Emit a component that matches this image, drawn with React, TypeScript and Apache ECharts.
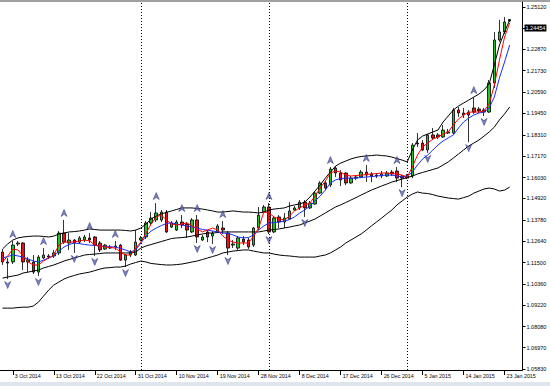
import React, { useEffect, useRef } from "react";
import * as echarts from "echarts";

const dates = [
  "1 Oct 2014","2 Oct 2014","3 Oct 2014","5 Oct 2014","6 Oct 2014","7 Oct 2014","8 Oct 2014","9 Oct 2014","10 Oct 2014","12 Oct 2014",
  "13 Oct 2014","14 Oct 2014","15 Oct 2014","16 Oct 2014","17 Oct 2014","19 Oct 2014","20 Oct 2014","21 Oct 2014","22 Oct 2014","23 Oct 2014",
  "24 Oct 2014","26 Oct 2014","27 Oct 2014","28 Oct 2014","29 Oct 2014","30 Oct 2014","31 Oct 2014","2 Nov 2014","3 Nov 2014","4 Nov 2014",
  "5 Nov 2014","6 Nov 2014","7 Nov 2014","9 Nov 2014","10 Nov 2014","11 Nov 2014","12 Nov 2014","13 Nov 2014","14 Nov 2014","16 Nov 2014",
  "17 Nov 2014","18 Nov 2014","19 Nov 2014","20 Nov 2014","21 Nov 2014","23 Nov 2014","24 Nov 2014","25 Nov 2014","26 Nov 2014","27 Nov 2014",
  "28 Nov 2014","30 Nov 2014","1 Dec 2014","2 Dec 2014","3 Dec 2014","4 Dec 2014","5 Dec 2014","7 Dec 2014","8 Dec 2014","9 Dec 2014",
  "10 Dec 2014","11 Dec 2014","12 Dec 2014","14 Dec 2014","15 Dec 2014","16 Dec 2014","17 Dec 2014","18 Dec 2014","19 Dec 2014","21 Dec 2014",
  "22 Dec 2014","23 Dec 2014","24 Dec 2014","25 Dec 2014","26 Dec 2014","28 Dec 2014","29 Dec 2014","30 Dec 2014","31 Dec 2014","1 Jan 2015",
  "2 Jan 2015","4 Jan 2015","5 Jan 2015","6 Jan 2015","7 Jan 2015","8 Jan 2015","9 Jan 2015","11 Jan 2015","12 Jan 2015","13 Jan 2015",
  "14 Jan 2015","15 Jan 2015","16 Jan 2015","18 Jan 2015","19 Jan 2015","20 Jan 2015","21 Jan 2015","22 Jan 2015","23 Jan 2015","25 Jan 2015",
  "26 Jan 2015","27 Jan 2015",
];

const tickDates = [
  "3 Oct 2014","13 Oct 2014","22 Oct 2014","31 Oct 2014","10 Nov 2014","19 Nov 2014","28 Nov 2014",
  "8 Dec 2014","17 Dec 2014","26 Dec 2014","5 Jan 2015","14 Jan 2015","23 Jan 2015",
];

const separatorDates = ["2 Nov 2014", "1 Dec 2014", "1 Jan 2015"];

const priceTicks = [
  1.2512, 1.2398, 1.2287, 1.2173, 1.2059, 1.1945, 1.1831, 1.1717, 1.1603,
  1.1492, 1.1378, 1.1264, 1.115, 1.1036, 1.0922, 1.0808, 1.0697, 1.0583,
];

const lastPrice = 1.24454;

// [open, close, low, high]
const ohlc = [
  [1.1206,1.1153,1.1137,1.1222],[1.1153,1.1147,1.1062,1.1174],[1.1153,1.1243,1.1142,1.1265],[1.1249,1.1254,1.1238,1.1265],
  [1.1254,1.1153,1.1110,1.1259],[1.1153,1.1163,1.1099,1.1179],[1.1153,1.1099,1.1089,1.1190],[1.1099,1.1179,1.1078,1.1190],
  [1.1174,1.1190,1.1169,1.1227],[1.1185,1.1179,1.1169,1.1195],[1.1185,1.1201,1.1174,1.1217],[1.1201,1.1307,1.1190,1.1318],
  [1.1307,1.1259,1.1249,1.1377],[1.1254,1.1270,1.1217,1.1307],[1.1270,1.1254,1.1201,1.1275],[1.1259,1.1281,1.1249,1.1291],
  [1.1270,1.1286,1.1259,1.1297],[1.1281,1.1270,1.1254,1.1307],[1.1286,1.1243,1.1185,1.1291],[1.1254,1.1217,1.1206,1.1265],
  [1.1222,1.1243,1.1217,1.1249],[1.1233,1.1227,1.1222,1.1243],[1.1233,1.1238,1.1217,1.1265],[1.1243,1.1163,1.1158,1.1249],
  [1.1163,1.1190,1.1126,1.1195],[1.1190,1.1206,1.1179,1.1217],[1.1190,1.1259,1.1185,1.1323],[1.1270,1.1281,1.1265,1.1291],
  [1.1286,1.1361,1.1275,1.1371],[1.1361,1.1387,1.1350,1.1419],[1.1377,1.1414,1.1366,1.1467],[1.1377,1.1419,1.1366,1.1430],
  [1.1419,1.1313,1.1307,1.1430],[1.1339,1.1361,1.1334,1.1371],[1.1323,1.1366,1.1318,1.1377],[1.1366,1.1350,1.1334,1.1403],
  [1.1355,1.1323,1.1281,1.1366],[1.1313,1.1377,1.1307,1.1387],[1.1377,1.1286,1.1254,1.1403],[1.1270,1.1286,1.1265,1.1297],
  [1.1313,1.1286,1.1259,1.1323],[1.1291,1.1307,1.1249,1.1318],[1.1313,1.1345,1.1307,1.1355],[1.1334,1.1323,1.1302,1.1371],
  [1.1307,1.1227,1.1190,1.1318],[1.1243,1.1249,1.1227,1.1270],[1.1227,1.1281,1.1217,1.1291],[1.1275,1.1259,1.1243,1.1291],
  [1.1270,1.1233,1.1222,1.1281],[1.1243,1.1334,1.1233,1.1339],[1.1334,1.1403,1.1323,1.1446],[1.1419,1.1446,1.1414,1.1457],
  [1.1446,1.1313,1.1302,1.1467],[1.1313,1.1387,1.1307,1.1398],[1.1393,1.1366,1.1334,1.1403],[1.1366,1.1387,1.1334,1.1414],
  [1.1382,1.1425,1.1377,1.1472],[1.1430,1.1441,1.1425,1.1451],[1.1441,1.1472,1.1430,1.1483],[1.1472,1.1441,1.1393,1.1483],
  [1.1441,1.1467,1.1435,1.1478],[1.1462,1.1520,1.1457,1.1531],[1.1520,1.1574,1.1515,1.1584],[1.1574,1.1547,1.1536,1.1584],
  [1.1563,1.1648,1.1552,1.1659],[1.1654,1.1627,1.1606,1.1664],[1.1627,1.1590,1.1558,1.1643],[1.1627,1.1574,1.1563,1.1632],
  [1.1574,1.1600,1.1568,1.1611],[1.1600,1.1606,1.1590,1.1616],[1.1606,1.1632,1.1600,1.1643],[1.1632,1.1616,1.1579,1.1670],
  [1.1622,1.1611,1.1579,1.1632],[1.1616,1.1611,1.1600,1.1627],[1.1611,1.1622,1.1600,1.1638],[1.1611,1.1627,1.1606,1.1638],
  [1.1632,1.1622,1.1611,1.1643],[1.1638,1.1600,1.1579,1.1659],[1.1611,1.1600,1.1552,1.1616],[1.1600,1.1611,1.1595,1.1622],
  [1.1611,1.1776,1.1600,1.1787],[1.1787,1.1782,1.1766,1.1840],[1.1787,1.1750,1.1744,1.1803],[1.1750,1.1830,1.1734,1.1835],
  [1.1830,1.1814,1.1803,1.1867],[1.1830,1.1819,1.1808,1.1840],[1.1819,1.1856,1.1814,1.1883],[1.1840,1.1846,1.1835,1.1862],
  [1.1840,1.1963,1.1835,1.1974],[1.1963,1.1947,1.1926,1.1979],[1.1947,1.1936,1.1920,1.1974],[1.1952,1.1936,1.1792,1.1963],
  [1.1974,1.1952,1.1942,1.2032],[1.1968,1.1958,1.1947,1.1979],[1.1963,1.1952,1.1931,1.1974],[1.1952,1.2107,1.1947,1.2123],
  [1.2107,1.2336,1.2080,1.2379],[1.2336,1.2379,1.2326,1.2443],[1.2379,1.2432,1.2368,1.2459],[1.2437,1.24454,1.2432,1.2448],
];

const redMA = [
  1.1153,1.1185,1.1222,1.1217,1.1185,1.1153,1.1137,1.1137,1.1158,1.1174,
  1.1190,1.1243,1.1259,1.1259,1.1259,1.1265,1.1270,1.1265,1.1243,1.1238,
  1.1233,1.1230,1.1227,1.1206,1.1190,1.1190,1.1227,1.1259,1.1307,1.1355,
  1.1393,1.1403,1.1377,1.1355,1.1350,1.1355,1.1361,1.1345,1.1329,1.1313,
  1.1323,1.1334,1.1323,1.1291,1.1270,1.1259,1.1254,1.1254,1.1254,1.1291,
  1.1334,1.1419,1.1414,1.1393,1.1382,1.1377,1.1398,1.1425,1.1441,1.1457,
  1.1467,1.1504,1.1547,1.1584,1.1627,1.1638,1.1632,1.1616,1.1611,1.1614,
  1.1616,1.1619,1.1622,1.1624,1.1627,1.1627,1.1624,1.1622,1.1616,1.1606,
  1.1659,1.1723,1.1766,1.1787,1.1808,1.1819,1.1835,1.1846,1.1883,1.1915,
  1.1936,1.1952,1.1952,1.1952,1.1958,1.1995,1.2096,1.2229,1.2352,1.2427,
];

const blueMA = [
  1.1174,1.1182,1.1190,1.1185,1.1179,1.1169,1.1158,1.1153,1.1163,1.1174,
  1.1185,1.1211,1.1233,1.1246,1.1254,1.1251,1.1246,1.1243,1.1241,1.1238,
  1.1235,1.1233,1.1233,1.1225,1.1217,1.1206,1.1217,1.1254,1.1291,1.1318,
  1.1334,1.1347,1.1358,1.1361,1.1355,1.1350,1.1345,1.1339,1.1334,1.1326,
  1.1323,1.1318,1.1313,1.1307,1.1305,1.1297,1.1286,1.1281,1.1283,1.1297,
  1.1323,1.1345,1.1361,1.1363,1.1366,1.1371,1.1379,1.1393,1.1414,1.1430,
  1.1451,1.1478,1.1504,1.1536,1.1574,1.1590,1.1598,1.1600,1.1600,1.1600,
  1.1603,1.1606,1.1608,1.1611,1.1614,1.1616,1.1616,1.1611,1.1606,1.1611,
  1.1632,1.1670,1.1702,1.1723,1.1750,1.1776,1.1798,1.1814,1.1830,1.1867,
  1.1899,1.1920,1.1936,1.1947,1.1952,1.1974,1.2032,1.2134,1.2219,1.2309,
];

const upperBand = [
  1.1222,1.1249,1.1270,1.1281,1.1286,1.1289,1.1291,1.1291,1.1289,1.1286,
  1.1291,1.1302,1.1307,1.1313,1.1315,1.1318,1.1323,1.1329,1.1326,1.1323,
  1.1323,1.1323,1.1323,1.1323,1.1321,1.1318,1.1323,1.1334,1.1355,1.1382,
  1.1398,1.1409,1.1417,1.1425,1.1433,1.1441,1.1441,1.1441,1.1438,1.1435,
  1.1430,1.1425,1.1419,1.1419,1.1422,1.1425,1.1422,1.1419,1.1419,1.1417,
  1.1414,1.1419,1.1430,1.1435,1.1438,1.1441,1.1451,1.1457,1.1462,1.1472,
  1.1499,1.1531,1.1563,1.1600,1.1632,1.1664,1.1680,1.1691,1.1702,1.1710,
  1.1715,1.1718,1.1720,1.1723,1.1720,1.1718,1.1712,1.1704,1.1696,1.1686,
  1.1750,1.1803,1.1824,1.1835,1.1846,1.1856,1.1899,1.1931,1.1963,1.1984,
  1.2000,1.2016,1.2032,1.2048,1.2070,1.2102,1.2203,1.2309,1.2379,1.2443,
];

const lowerBand = [
  1.1067,1.1073,1.1078,1.1083,1.1094,1.1099,1.1105,1.1110,1.1121,1.1129,
  1.1137,1.1147,1.1158,1.1166,1.1174,1.1182,1.1190,1.1193,1.1195,1.1198,
  1.1201,1.1201,1.1201,1.1201,1.1201,1.1201,1.1206,1.1227,1.1238,1.1246,
  1.1254,1.1262,1.1270,1.1278,1.1281,1.1283,1.1286,1.1291,1.1297,1.1302,
  1.1307,1.1307,1.1310,1.1313,1.1313,1.1313,1.1313,1.1313,1.1313,1.1313,
  1.1313,1.1318,1.1323,1.1326,1.1329,1.1334,1.1339,1.1345,1.1350,1.1361,
  1.1371,1.1382,1.1398,1.1414,1.1430,1.1446,1.1457,1.1470,1.1483,1.1496,
  1.1510,1.1523,1.1536,1.1547,1.1558,1.1568,1.1579,1.1587,1.1595,1.1603,
  1.1611,1.1622,1.1630,1.1638,1.1646,1.1654,1.1670,1.1686,1.1707,1.1728,
  1.1750,1.1771,1.1787,1.1803,1.1824,1.1846,1.1872,1.1910,1.1942,1.1979,
];

const outerBand = [
  1.0907,1.0907,1.0907,1.0910,1.0912,1.0912,1.0918,1.0939,1.0971,1.1003,
  1.1030,1.1046,1.1062,1.1073,1.1081,1.1089,1.1094,1.1099,1.1107,1.1115,
  1.1121,1.1123,1.1126,1.1126,1.1131,1.1142,1.1150,1.1158,1.1153,1.1145,
  1.1142,1.1139,1.1137,1.1137,1.1139,1.1142,1.1147,1.1153,1.1158,1.1166,
  1.1174,1.1182,1.1190,1.1201,1.1206,1.1211,1.1214,1.1217,1.1217,1.1211,
  1.1206,1.1201,1.1201,1.1195,1.1190,1.1187,1.1185,1.1182,1.1179,1.1179,
  1.1179,1.1179,1.1185,1.1190,1.1201,1.1217,1.1233,1.1254,1.1270,1.1286,
  1.1302,1.1323,1.1345,1.1366,1.1387,1.1409,1.1430,1.1457,1.1478,1.1499,
  1.1515,1.1526,1.1520,1.1518,1.1512,1.1504,1.1499,1.1494,1.1491,1.1488,
  1.1496,1.1504,1.1520,1.1531,1.1542,1.1547,1.1542,1.1531,1.1536,1.1552,
];

const fractalUpDates = [
  "3 Oct 2014","10 Oct 2014","15 Oct 2014","21 Oct 2014","27 Oct 2014","5 Nov 2014","11 Nov 2014",
  "14 Nov 2014","20 Nov 2014","1 Dec 2014","15 Dec 2014","23 Dec 2014","30 Dec 2014","16 Jan 2015",
];
const fractalUpValues = [
  1.1265,1.1227,1.1377,1.1307,1.1265,1.1467,1.1403,1.1403,1.1371,1.1467,1.1659,1.1670,1.1659,1.2032,
];
const fractalDownDates = [
  "2 Oct 2014","9 Oct 2014","17 Oct 2014","22 Oct 2014","29 Oct 2014","14 Nov 2014","18 Nov 2014",
  "21 Nov 2014","1 Dec 2014","9 Dec 2014","31 Dec 2014","6 Jan 2015","15 Jan 2015","19 Jan 2015",
];
const fractalDownValues = [
  1.1062,1.1078,1.1201,1.1185,1.1126,1.1254,1.1249,1.1190,1.1302,1.1393,1.1552,1.1734,1.1792,1.1931,
];

const FONT = "Liberation Sans, Arial, sans-serif";
const UP_ARROW = "path://M5,0 L10,10 L5,7 L0,10 Z";
const DOWN_ARROW = "path://M0,0 L5,3 L10,0 L5,10 Z";

export default function App() {
  const ref = useRef<HTMLDivElement>(null);

  useEffect(() => {
    if (!ref.current) return;
    const chart = echarts.init(ref.current, undefined, { renderer: "svg" });
    const tickSet = new Set(tickDates);
    const lineSeries = (name: string, data: number[], color: string) => ({
      name,
      type: "line",
      data,
      showSymbol: false,
      symbol: "none",
      z: 3,
      lineStyle: { color, width: 1 },
      silent: true,
    });

    chart.setOption({
      animation: false,
      backgroundColor: "#ffffff",
      grid: { left: -1.8, top: 2, width: 524.3, height: 368, containLabel: false },
      xAxis: {
        type: "category",
        data: dates,
        boundaryGap: true,
        axisLine: { show: true, lineStyle: { color: "#000", width: 1 } },
        axisTick: {
          show: true,
          alignWithLabel: true,
          length: 5,
          interval: (_i: number, v: string) => tickSet.has(v),
          lineStyle: { color: "#000", width: 1 },
        },
        axisLabel: {
          show: true,
          interval: (_i: number, v: string) => tickSet.has(v),
          align: "left",
          margin: 3,
          padding: [0, 0, 0, 2],
          fontSize: 5.3,
          fontFamily: FONT,
          color: "#000",
        },
        splitLine: { show: false },
      },
      yAxis: {
        type: "value",
        position: "right",
        min: 1.05772,
        max: 1.25386,
        scale: true,
        splitLine: { show: false },
        axisLine: { show: true, onZero: false, lineStyle: { color: "#000", width: 1 } },
        axisTick: { show: true, length: 3, customValues: priceTicks, lineStyle: { color: "#000" } },
        axisLabel: {
          show: true,
          customValues: priceTicks,
          formatter: (v: number) => v.toFixed(5),
          margin: 4,
          fontSize: 5.5,
          fontFamily: FONT,
          color: "#000",
        },
      },
      graphic: [
        { type: "rect", shape: { x: 0, y: 0, width: 550, height: 2 }, style: { fill: "#a0a0a0" }, silent: true },
        { type: "rect", shape: { x: 0, y: 382, width: 550, height: 4 }, style: { fill: "#dfe5ec" }, silent: true },
      ],
      series: [
        {
          name: "price",
          type: "candlestick",
          data: ohlc,
          barWidth: 3,
          z: 2,
          silent: true,
          clip: false,
          itemStyle: {
            color: "#22c322",
            color0: "#e4161b",
            borderColor: "#000",
            borderColor0: "#000",
            borderWidth: 0.8,
          },
          markLine: {
            silent: true,
            symbol: "none",
            animation: false,
            data: [
              ...separatorDates.map((d) => ({
                xAxis: d,
                lineStyle: { color: "#000", type: [1, 2], width: 1 },
                label: { show: false },
              })),
              {
                yAxis: lastPrice,
                lineStyle: { color: "rgba(255,255,255,0)", width: 1 },
                label: {
                  show: true,
                  position: "end",
                  distance: 2,
                  formatter: lastPrice.toFixed(5),
                  backgroundColor: "#000",
                  color: "#fff",
                  fontSize: 5.5,
                  fontFamily: FONT,
                  padding: [1, 1, 0, 1],
                  opacity: 1,
                },
              },
            ],
          },
        },
        lineSeries("upper", upperBand, "#000"),
        lineSeries("lower", lowerBand, "#000"),
        lineSeries("outer", outerBand, "#000"),
        lineSeries("blue", blueMA, "#1a2cff"),
        lineSeries("red", redMA, "#ff0000"),
        {
          name: "fractalUp",
          type: "scatter",
          z: 4,
          silent: true,
          symbol: UP_ARROW,
          symbolSize: [6, 7],
          symbolOffset: [0, -7],
          itemStyle: { color: "#5c66b8", borderColor: "#1f2466", borderWidth: 0.6 },
          data: fractalUpDates.map((d, i) => [d, fractalUpValues[i]]),
        },
        {
          name: "fractalDown",
          type: "scatter",
          z: 4,
          silent: true,
          symbol: DOWN_ARROW,
          symbolSize: [6, 7],
          symbolOffset: [0, 6],
          itemStyle: { color: "#5c66b8", borderColor: "#1f2466", borderWidth: 0.6 },
          data: fractalDownDates.map((d, i) => [d, fractalDownValues[i]]),
        },
      ],
    });

    return () => chart.dispose();
  }, []);

  return (
    <div
      ref={ref}
      style={{ position: "fixed", left: 0, top: 0, width: 550, height: 386, background: "#fff" }}
    />
  );
}
